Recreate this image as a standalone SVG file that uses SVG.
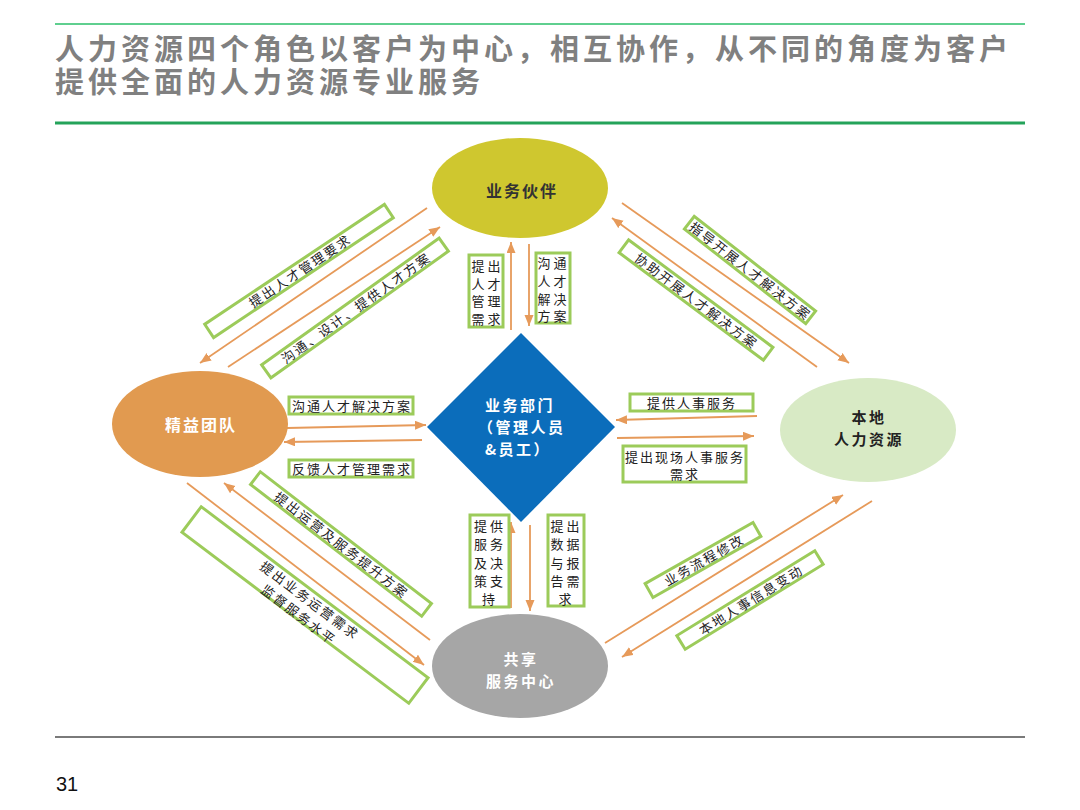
<svg xmlns="http://www.w3.org/2000/svg" width="1080" height="810" viewBox="0 0 1080 810">
<defs>
<marker id="ah" markerUnits="userSpaceOnUse" markerWidth="12" markerHeight="10" refX="11" refY="4.5" orient="auto">
<path d="M0,0 L11,4.5 L0,9 z" fill="#e69a5a"/>
</marker>
<style>
.title{font-family:"Noto Sans CJK SC","Noto Sans",sans-serif;font-size:29px;font-weight:bold;fill:#808080;letter-spacing:4px}
.box{fill:#ffffff;stroke:#9ccb5a;stroke-width:3}
.lbl{font-family:"Noto Sans CJK SC",sans-serif;font-size:13px;fill:#222222;letter-spacing:2px;text-anchor:middle;dominant-baseline:central}
.vl{font-family:"Noto Sans CJK SC",sans-serif;font-size:13px;fill:#222222;letter-spacing:3px;text-anchor:middle;dominant-baseline:central}
.arr{stroke:#e69a5a;stroke-width:1.8;fill:none;marker-end:url(#ah)}
.nt{font-family:"Noto Sans CJK SC",sans-serif;font-size:16px;font-weight:bold;letter-spacing:2px;text-anchor:middle;dominant-baseline:central}
.nt2{font-family:"Noto Sans CJK SC",sans-serif;font-size:15px;font-weight:bold;letter-spacing:2.5px;text-anchor:middle;dominant-baseline:central}
</style>
</defs>
<rect width="1080" height="810" fill="#ffffff"/>
<g id="header">
<line x1="55" y1="24" x2="1025" y2="24" stroke="#5fcf8f" stroke-width="2"/>
<text class="title" x="55" y="60">人力资源四个角色以客户为中心，相互协作，从不同的角度为客户</text>
<text class="title" x="55" y="93">提供全面的人力资源专业服务</text>
<line x1="55" y1="123" x2="1025" y2="123" stroke="#24a35a" stroke-width="3"/>
</g>
<g id="footer">
<line x1="55" y1="737" x2="1025" y2="737" stroke="#7a7a7a" stroke-width="2"/>
<text x="56" y="791" font-family="Liberation Sans, Arial, sans-serif" font-size="20" fill="#111">31</text>
</g>
<g id="connectors">
<line class="arr" x1="427" y1="208" x2="200" y2="363"/>
<line class="arr" x1="228" y1="367" x2="440" y2="227"/>
<line class="arr" x1="622" y1="203" x2="849" y2="363"/>
<line class="arr" x1="817" y1="367" x2="612" y2="218"/>
<line class="arr" x1="187" y1="483" x2="424" y2="665"/>
<line class="arr" x1="430" y1="640" x2="224" y2="483"/>
<line class="arr" x1="605" y1="643" x2="843" y2="495"/>
<line class="arr" x1="872" y1="501" x2="622" y2="657"/>
<line class="arr" x1="511" y1="330" x2="511" y2="242"/>
<line class="arr" x1="529" y1="244" x2="529" y2="326"/>
<line class="arr" x1="511" y1="608" x2="511" y2="522"/>
<line class="arr" x1="530" y1="525" x2="530" y2="611"/>
<line class="arr" x1="287" y1="428" x2="426" y2="425"/>
<line class="arr" x1="422" y1="440" x2="284" y2="442"/>
<line class="arr" x1="757" y1="416" x2="616" y2="420"/>
<line class="arr" x1="617" y1="438" x2="754" y2="436"/>
</g>
<g id="node-partner">
<ellipse cx="520" cy="188" rx="88" ry="50" fill="#cfc72f"/>
<text class="nt" x="522" y="190" fill="#333333">业务伙伴</text>
</g>
<g id="node-lean">
<ellipse cx="200" cy="424" rx="88" ry="53" fill="#e19a50"/>
<text class="nt" x="201" y="424" fill="#ffffff">精益团队</text>
</g>
<g id="node-local">
<ellipse cx="868" cy="430" rx="88" ry="52" fill="#d8eac5"/>
<text class="nt2" x="869" y="416" fill="#222222">本地</text>
<text class="nt2" x="869" y="438" fill="#222222">人力资源</text>
</g>
<g id="node-shared">
<ellipse cx="520" cy="666" rx="88" ry="52" fill="#a6a6a6"/>
<text class="nt2" x="521" y="658" fill="#ffffff">共享</text>
<text class="nt2" x="521" y="680" fill="#ffffff">服务中心</text>
</g>
<g id="node-dept">
<polygon points="521,333 615,427 521,522 427,427" fill="#0b6dbb"/>
<text class="nt2" x="485" y="404" fill="#ffffff" style="text-anchor:start">业务部门</text>
<text class="nt2" x="478" y="426" fill="#ffffff" style="text-anchor:start">（管理人员</text>
<text class="nt2" x="485" y="448" fill="#ffffff" style="text-anchor:start">&amp;员工）</text>
</g>
<g id="label-tl1" transform="translate(299,271) rotate(-33.7)">
<rect class="box" x="-108" y="-8" width="216" height="16"/>
<text class="lbl" x="1" y="0">提出人才管理要求</text>
</g>
<g id="label-tl2" transform="translate(355,308) rotate(-35.5)">
<rect class="box" x="-109" y="-8" width="218" height="16"/>
<text class="lbl" x="1" y="0">沟通、设计、提供人才方案</text>
</g>
<g id="label-tr1" transform="translate(750,270) rotate(38)">
<rect class="box" x="-77" y="-8" width="154" height="16"/>
<text class="lbl" x="1" y="0">指导开展人才解决方案</text>
</g>
<g id="label-tr2" transform="translate(696,300) rotate(36.7)">
<rect class="box" x="-90" y="-8" width="180" height="16"/>
<text class="lbl" x="1" y="0">协助开展人才解决方案</text>
</g>
<g id="label-bl1" transform="translate(341,544) rotate(37.6)">
<rect class="box" x="-108" y="-8" width="216" height="16"/>
<text class="lbl" x="1" y="0">提出运营及服务提升方案</text>
</g>
<g id="label-bl2" transform="translate(305,605) rotate(37)">
<rect class="box" x="-142" y="-16" width="284" height="32"/>
<text class="lbl" x="1" y="-7">提出业务运营需求</text>
<text class="lbl" x="1" y="11">监督服务水平</text>
</g>
<g id="label-br1" transform="translate(703,560) rotate(-29.5)">
<rect class="box" x="-62" y="-8" width="124" height="16"/>
<text class="lbl" x="1" y="0">业务流程修改</text>
</g>
<g id="label-br2" transform="translate(750,600) rotate(-31.6)">
<rect class="box" x="-81" y="-8" width="162" height="16"/>
<text class="lbl" x="1" y="0">本地人事信息变动</text>
</g>
<g id="label-l1">
<rect class="box" x="289" y="397" width="124" height="17"/>
<text class="lbl" x="352" y="405.5">沟通人才解决方案</text>
</g>
<g id="label-l2">
<rect class="box" x="289" y="460" width="124" height="17"/>
<text class="lbl" x="352" y="468.5">反馈人才管理需求</text>
</g>
<g id="label-r1">
<rect class="box" x="630" y="394" width="123" height="17"/>
<text class="lbl" x="692" y="402.5">提供人事服务</text>
</g>
<g id="label-r2">
<rect class="box" x="623" y="446" width="123" height="36"/>
<text class="lbl" x="685" y="456">提出现场人事服务</text>
<text class="lbl" x="685" y="473">需求</text>
</g>
<g id="label-v1">
<rect class="box" x="469" y="255" width="34" height="72"/>
<text class="vl" x="487.5" y="265">提出</text>
<text class="vl" x="487.5" y="283">人才</text>
<text class="vl" x="487.5" y="300">管理</text>
<text class="vl" x="487.5" y="318">需求</text>
</g>
<g id="label-v2">
<rect class="box" x="536" y="253" width="34" height="70"/>
<text class="vl" x="553.5" y="262">沟通</text>
<text class="vl" x="553.5" y="280">人才</text>
<text class="vl" x="553.5" y="298">解决</text>
<text class="vl" x="553.5" y="315">方案</text>
</g>
<g id="label-v3">
<rect class="box" x="470" y="515" width="39" height="92"/>
<text class="vl" x="490" y="525">提供</text>
<text class="vl" x="490" y="543">服务</text>
<text class="vl" x="490" y="562">及决</text>
<text class="vl" x="490" y="580">策支</text>
<text class="vl" x="490" y="598">持</text>
</g>
<g id="label-v4">
<rect class="box" x="548" y="515" width="36" height="91"/>
<text class="vl" x="566.5" y="525">提出</text>
<text class="vl" x="566.5" y="543">数据</text>
<text class="vl" x="566.5" y="562">与报</text>
<text class="vl" x="566.5" y="580">告需</text>
<text class="vl" x="566.5" y="598">求</text>
</g>
</svg>
